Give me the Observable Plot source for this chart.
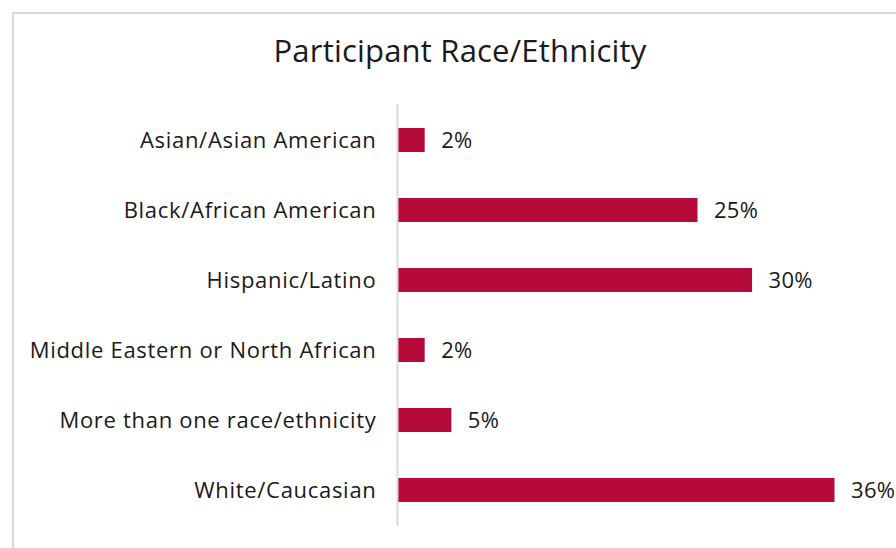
<!DOCTYPE html>
<html>
<head>
<meta charset="utf-8">
<script src="https://cdn.jsdelivr.net/npm/d3@7"></script>
<script src="https://cdn.jsdelivr.net/npm/@observablehq/plot@0.6"></script>
<style>
  html, body { margin: 0; padding: 0; background: #fff; }
  #wrap { position: relative; width: 896px; height: 548px; overflow: hidden; font-family: "Open Sans", Lato, sans-serif; }
  #frame { position: absolute; left: 12px; top: 12px; width: 900px; height: 560px; border-top: 2px solid #d9d9d9; border-left: 2px solid #d9d9d9; box-sizing: border-box; }
  #title { position: absolute; left: 0; top: 30px; width: 920px; text-align: center; font-size: 31px; letter-spacing: 0.2px; font-weight: 400; color: #1a1a1a; line-height: 40px; }
  #chart { position: absolute; left: 0; top: 88px; }
  #chart svg g[aria-label="y-axis tick label"] text { letter-spacing: 0.7px; }
  #chart svg g[aria-label="text"] text { letter-spacing: 0.3px; }
</style>
</head>
<body>
<div id="wrap">
  <div id="frame"></div>
  <div id="title">Participant Race/Ethnicity</div>
  <div id="chart"></div>
</div>
<script>
const categories = [
  "Asian/Asian American",
  "Black/African American",
  "Hispanic/Latino",
  "Middle Eastern or North African",
  "More than one race/ethnicity",
  "White/Caucasian"
];
const values = [2.2, 24.7, 29.2, 2.2, 4.4, 36.0];
const valueLabels = ["2%", "25%", "30%", "2%", "5%", "36%"];

const data = categories.map((c, i) => ({category: c, value: values[i], label: valueLabels[i]}));

const chart = Plot.plot({
  width: 896,
  height: 460,
  marginLeft: 398,
  marginRight: 13,
  marginTop: 16,
  marginBottom: 22,
  style: {fontFamily: "'Open Sans', Lato, sans-serif", background: "transparent"},
  x: {domain: [0, 40], axis: null},
  y: {domain: categories, paddingInner: 0.66, paddingOuter: 0.33, label: null},
  marks: [
    Plot.barX(data, {y: "category", x: "value", fill: "#b50a3a"}),
    Plot.ruleX([0], {stroke: "#d9d9d9", strokeWidth: 2, dx: -1}),
    Plot.text(data, {y: "category", x: "value", text: "label", textAnchor: "start", dx: 16, fontSize: 22, fill: "#1a1a1a"}),
    Plot.axisY({tickSize: 0, tickPadding: 22, fontSize: 22, label: null, color: "#1a1a1a"})
  ]
});
document.getElementById("chart").appendChild(chart);
</script>
</body>
</html>
